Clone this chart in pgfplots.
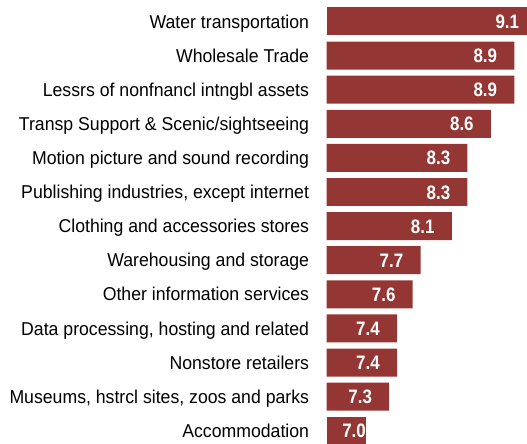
\documentclass[border=0pt]{standalone}
\usepackage{pgfplots}
\pgfplotsset{compat=1.18}
\usepackage{fontspec}
\setmainfont{Liberation Sans}[FakeStretch=0.95]
\newfontfamily\barfont{Liberation Sans}[FakeStretch=0.87]
\definecolor{barred}{HTML}{943634}
\begin{document}
\begin{tikzpicture}
\begin{axis}[
  name=ax,
  xbar, bar shift=0pt,
  scale only axis,
  width=152.5pt, height=332.25pt,
  xmin=6.5, xmax=9.1,
  ymin=-0.36, ymax=12.63,
  bar width=0.82,
  axis line style={draw=none},
  tick style={draw=none},
  xtick=\empty,
  ytick={0,1,2,3,4,5,6,7,8,9,10,11,12},
  yticklabels={Accommodation,
    {Museums, hstrcl sites, zoos and parks},
    Nonstore retailers,
    {Data processing, hosting and related},
    Other information services,
    Warehousing and storage,
    Clothing and accessories stores,
    {Publishing industries, except internet},
    Motion picture and sound recording,
    Transp Support \& Scenic/sightseeing,
    Lessrs of nonfnancl intngbl assets,
    Wholesale Trade,
    Water transportation},
  yticklabel style={font=\fontsize{13.95pt}{16pt}\selectfont, anchor=base east, inner sep=0pt, xshift=-8.75pt, yshift=-5pt, text=black},
  nodes near coords,
  point meta=explicit symbolic,
  every node near coord/.append style={font=\barfont\bfseries\fontsize{14.6pt}{16pt}\selectfont, text=white, anchor=base east, inner sep=0pt, xshift=-12.75pt, yshift=-5.25pt},
]
\addplot[fill=barred, draw=none, every node near coord/.append style={xshift=4.75pt}] coordinates {
  (9.1,12) [9.1]
};
\addplot[fill=barred, draw=none] coordinates {
  (8.9,11) [8.9]
  (8.9,10) [8.9]
  (8.6,9) [8.6]
  (8.3,8) [8.3]
  (8.3,7) [8.3]
  (8.1,6) [8.1]
  (7.7,5) [7.7]
  (7.6,4) [7.6]
  (7.4,3) [7.4]
  (7.4,2) [7.4]
  (7.3,1) [7.3]
};
\addplot[fill=barred, draw=none, every node near coord/.append style={xshift=13pt}] coordinates {
  (7.0,0) [7.0]
};
\end{axis}
\pgfresetboundingbox
\path ([xshift=-245pt]ax.south west) rectangle ++(395.25pt,332.25pt);
\end{tikzpicture}
\end{document}
